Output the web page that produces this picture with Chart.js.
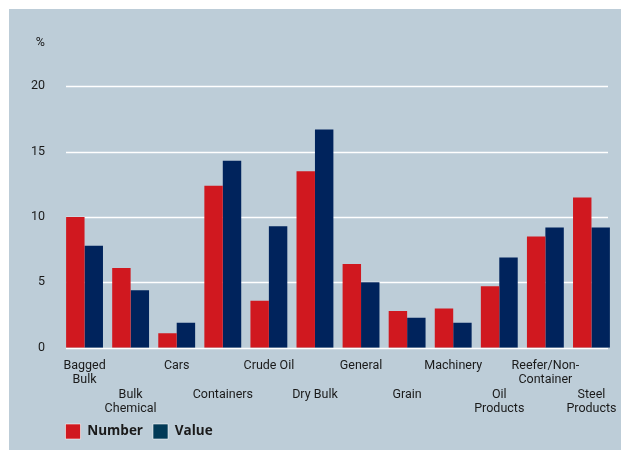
<!DOCTYPE html>
<html><head><meta charset="utf-8">
<script src="https://cdn.jsdelivr.net/npm/chart.js@4/dist/chart.umd.min.js"></script>
<style>
html,body{margin:0;padding:0;background:#fff;width:621px;height:450px;overflow:hidden}
#wrap{position:absolute;left:9px;top:9px;width:612px;height:441px;background:#BDCDD8}
canvas{display:block}
</style></head><body>
<div id="wrap"><canvas id="c" width="612" height="441"></canvas></div>
<script>
const categories = [['Bagged','Bulk'],['Bulk','Chemical'],['Cars'],['Containers'],['Crude Oil'],['Dry Bulk'],['General'],['Grain'],['Machinery'],['Oil','Products'],['Reefer/Non-','Container'],['Steel','Products']];
const numberValues = [10.0, 6.1, 1.1, 12.4, 3.6, 13.5, 6.4, 2.8, 3.0, 4.7, 8.5, 11.5];
const valueValues  = [7.8, 4.4, 1.9, 14.3, 9.3, 16.7, 5.0, 2.3, 1.9, 6.9, 9.2, 9.2];
const seriesNames = ['Number', 'Value'];
const yTickValues = [0, 5, 10, 15, 20];
const yUnitLabel = '%';
const yUnitAt = 23.3;
const yMax = 25;

const RED = '#D0181F', BLUE = '#00235C', LEGEND_BLUE = '#023A57', TEXT = '#1a1a1a';

const gridPlugin = {
  id: 'panelGrid',
  beforeDatasetsDraw(chart) {
    const {ctx, chartArea, scales: {y}} = chart;
    ctx.save();
    ctx.strokeStyle = '#ffffff';
    ctx.lineWidth = 1.3;
    yTickValues.forEach(v => {
      const py = Math.round(y.getPixelForValue(v)) + 0.5;
      ctx.beginPath();
      ctx.moveTo(chartArea.left + 4.5, py);
      ctx.lineTo(chartArea.right - 6.5, py);
      ctx.stroke();
    });
    ctx.restore();
  }
};
const legendShift = {
  id: 'legendShift',
  afterLayout(chart) { if (chart.legend) chart.legend.left = chart.chartArea.left - 6; }
};

new Chart(document.getElementById('c'), {
  type: 'bar',
  data: {
    labels: categories,
    datasets: [
      {label: seriesNames[0], data: numberValues, backgroundColor: RED, borderWidth: 0},
      {label: seriesNames[1], data: valueValues, backgroundColor: BLUE, borderWidth: 0}
    ]
  },
  options: {
    responsive: false,
    animation: false,
    devicePixelRatio: 1,
    categoryPercentage: 0.8,
    barPercentage: 1.0,
    layout: {padding: {top: 12, right: 6.5, left: 0, bottom: 1}},
    plugins: {
      tooltip: {enabled: false},
      title: {display: false},
      legend: {
        position: 'bottom',
        align: 'start',
        fullSize: false,
        labels: {
          boxWidth: 15, boxHeight: 15, padding: 10, color: TEXT,
          font: {family: 'Open Sans', size: 13.5, weight: 'bold'},
          generateLabels: (chart) => chart.data.datasets.map((ds, i) => ({
            text: ds.label,
            fillStyle: i === 0 ? RED : LEGEND_BLUE,
            strokeStyle: 'rgba(255,255,255,0.55)',
            lineWidth: 1,
            fontColor: TEXT,
            hidden: false,
            datasetIndex: i
          }))
        }
      }
    },
    scales: {
      x: {
        offset: true,
        grid: {display: false, drawTicks: false},
        border: {display: false},
        ticks: {
          autoSkip: false, maxRotation: 0, minRotation: 0, padding: 11, color: TEXT,
          font: {family: 'Roboto', size: 12.5, lineHeight: 1.15},
          callback: (v, i) => (i % 2 ? ['', ''].concat(categories[i]) : categories[i])
        },
        afterFit: (s) => { s.height = 66.3; s.paddingLeft = 0; s.paddingRight = 0; }
      },
      y: {
        min: 0, max: yMax,
        grid: {display: false, drawTicks: false},
        border: {display: false},
        afterBuildTicks: (s) => { s.ticks = yTickValues.concat([yUnitAt]).map(v => ({value: v})); },
        ticks: {
          padding: 16.5, color: TEXT,
          font: {family: 'Roboto', size: 12.5},
          callback: (v) => (v === yUnitAt ? yUnitLabel : String(v))
        },
        afterFit: (s) => { s.width = 52.5; s.paddingTop = 0; s.paddingBottom = 0; }
      }
    }
  },
  plugins: [gridPlugin, legendShift]
});
</script>
</body></html>
